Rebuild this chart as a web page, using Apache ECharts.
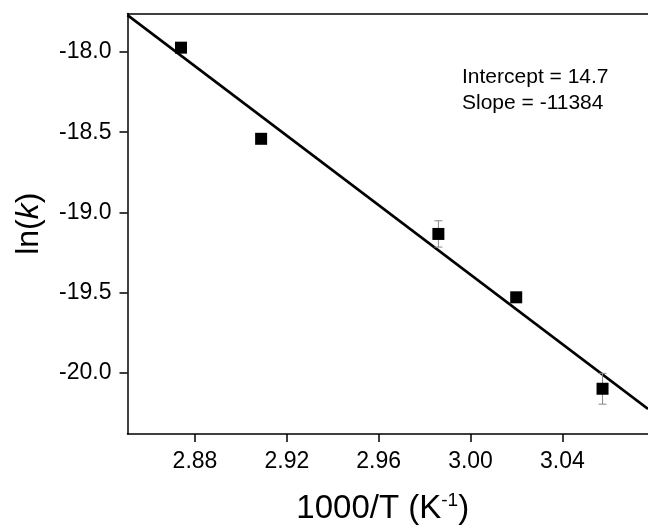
<!DOCTYPE html>
<html>
<head>
<meta charset="utf-8">
<script src="https://cdn.jsdelivr.net/npm/echarts@6/dist/echarts.min.js"></script>
<style>
html,body{margin:0;padding:0;background:#fff;}
#c{width:648px;height:530px;}
</style>
</head>
<body>
<div id="c"></div>
<script>
// Data
const xValues = [2.8739, 2.9088, 2.9860, 3.0199, 3.0575];
const yValues = [-17.973, -18.541, -19.134, -19.529, -20.099];
const yErrors = [0.02, 0.02, 0.082, 0.02, 0.096];
const fitX = [2.8506, 3.0773];
const fitY = [-17.770, -20.225];
const xTicks = [2.88, 2.92, 2.96, 3.00, 3.04];
const yTicks = [-20.0, -19.5, -19.0, -18.5, -18.0];
const annotation = ['Intercept = 14.7', 'Slope = -11384'];

const FONT = '"Liberation Sans", Arial, sans-serif';
const chart = echarts.init(document.getElementById('c'), null, {renderer: 'canvas'});

const points = xValues.map((x, i) => [x, yValues[i]]);
const errData = xValues.map((x, i) => [x, yValues[i] - yErrors[i], yValues[i] + yErrors[i]]);
const fitData = fitX.map((x, i) => [x, fitY[i]]);

chart.setOption({
  animation: false,
  backgroundColor: '#fff',
  grid: {left: 127.5, top: 13.5, right: 0, bottom: 92, containLabel: false},
  xAxis: [{
    type: 'value',
    min: 2.8506, max: 3.0773,
    name: '1000/T (K{sup|-1})',
    nameLocation: 'middle',
    nameGap: 57,
    nameTextStyle: {fontFamily: FONT, fontSize: 33, color: '#000', padding: [0, 10, 0, 0],
      rich: {sup: {fontFamily: FONT, fontSize: 19, color: '#000', verticalAlign: 'top', padding: [0, 0, 16, 0]}}},
    axisLine: {show: true, onZero: false, lineStyle: {color: '#000', width: 1.5}},
    axisTick: {show: true, inside: false, length: 8, customValues: xTicks, lineStyle: {color: '#000', width: 1.5}},
    axisLabel: {show: true, customValues: xTicks, margin: 16, fontFamily: FONT, fontSize: 23, color: '#000',
      formatter: v => Number(v).toFixed(2)},
    splitLine: {show: false}
  }, {
    type: 'value', position: 'top',
    min: 2.8506, max: 3.0773,
    axisLine: {show: true, onZero: false, lineStyle: {color: '#000', width: 1.5}},
    axisTick: {show: false}, axisLabel: {show: false}, splitLine: {show: false}
  }],
  yAxis: {
    type: 'value',
    min: -20.381, max: -17.76,
    name: 'ln({i|k})',
    nameLocation: 'middle',
    nameGap: 82,
    nameRotate: 90,
    nameTextStyle: {fontFamily: FONT, fontSize: 32, color: '#000',
      rich: {i: {fontFamily: FONT, fontSize: 32, fontStyle: 'italic', color: '#000'}}},
    axisLine: {show: true, onZero: false, lineStyle: {color: '#000', width: 1.5}},
    axisTick: {show: true, inside: false, length: 8, customValues: yTicks, lineStyle: {color: '#000', width: 1.5}},
    axisLabel: {show: true, customValues: yTicks, margin: 16, fontFamily: FONT, fontSize: 23, color: '#000',
      formatter: v => Number(v).toFixed(1)},
    splitLine: {show: false}
  },
  graphic: [{
    type: 'text', left: 462, top: 64,
    style: {text: annotation.join('\n'), fontFamily: FONT, fontSize: 21, lineHeight: 26, fill: '#000'}
  }],
  series: [{
    type: 'line',
    data: fitData,
    showSymbol: false,
    symbol: 'none',
    lineStyle: {color: '#000', width: 2.6},
    clip: true,
    z: 2
  }, {
    type: 'custom',
    data: errData,
    z: 3,
    renderItem: function (params, api) {
      const x = api.value(0);
      const lo = api.coord([x, api.value(1)]);
      const hi = api.coord([x, api.value(2)]);
      const cap = 4;
      const style = {stroke: '#888', lineWidth: 1};
      return {
        type: 'group',
        children: [
          {type: 'line', shape: {x1: lo[0], y1: lo[1], x2: hi[0], y2: hi[1]}, style: style},
          {type: 'line', shape: {x1: lo[0] - cap, y1: lo[1], x2: lo[0] + cap, y2: lo[1]}, style: style},
          {type: 'line', shape: {x1: hi[0] - cap, y1: hi[1], x2: hi[0] + cap, y2: hi[1]}, style: style}
        ]
      };
    }
  }, {
    type: 'scatter',
    data: points,
    symbol: 'rect',
    symbolSize: 12,
    itemStyle: {color: '#000', opacity: 1},
    z: 4
  }]
});
</script>
</body>
</html>
